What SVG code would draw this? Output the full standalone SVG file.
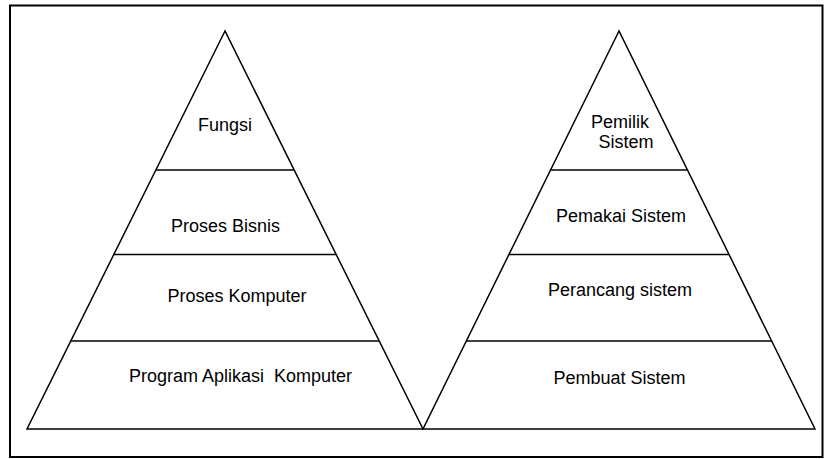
<svg xmlns="http://www.w3.org/2000/svg" width="824" height="459" viewBox="0 0 824 459">
<style>
.ln{stroke:#000;stroke-width:1.5;fill:none}
.t{font-family:"Liberation Sans",Arial,sans-serif;font-size:18px;fill:#000;text-anchor:middle;white-space:pre}
</style>
<rect x="0" y="0" width="824" height="459" fill="#fff"/>
<rect x="10" y="5.5" width="812.5" height="451.5" fill="none" stroke="#000" stroke-width="2"/>
<g id="left-pyramid">
<polygon class="ln" points="225,31 27,429 423,429"/>
<line class="ln" x1="156" y1="170" x2="294" y2="170"/>
<line class="ln" x1="113.8" y1="254.5" x2="336.2" y2="254.5"/>
<line class="ln" x1="70.8" y1="341" x2="379.2" y2="341"/>
</g>
<g id="left-fungsi"><text class="t" x="225" y="131">Fungsi</text></g>
<g id="left-proses-bisnis"><text class="t" x="225.5" y="232">Proses Bisnis</text></g>
<g id="left-proses-komputer"><text class="t" x="237" y="302">Proses Komputer</text></g>
<g id="left-program"><text class="t" x="240.5" y="382" xml:space="preserve">Program Aplikasi  Komputer</text></g>
<g id="right-pyramid">
<polygon class="ln" points="619,31 423,429 815,429"/>
<line class="ln" x1="550.5" y1="170" x2="687.5" y2="170"/>
<line class="ln" x1="509" y1="254.5" x2="729" y2="254.5"/>
<line class="ln" x1="466.5" y1="341" x2="771.5" y2="341"/>
</g>
<g id="right-pemilik"><text class="t" x="620" y="128">Pemilik</text><text class="t" x="626" y="148">Sistem</text></g>
<g id="right-pemakai"><text class="t" x="621" y="222">Pemakai Sistem</text></g>
<g id="right-perancang"><text class="t" x="620" y="296">Perancang sistem</text></g>
<g id="right-pembuat"><text class="t" x="619.5" y="384">Pembuat Sistem</text></g>
</svg>
